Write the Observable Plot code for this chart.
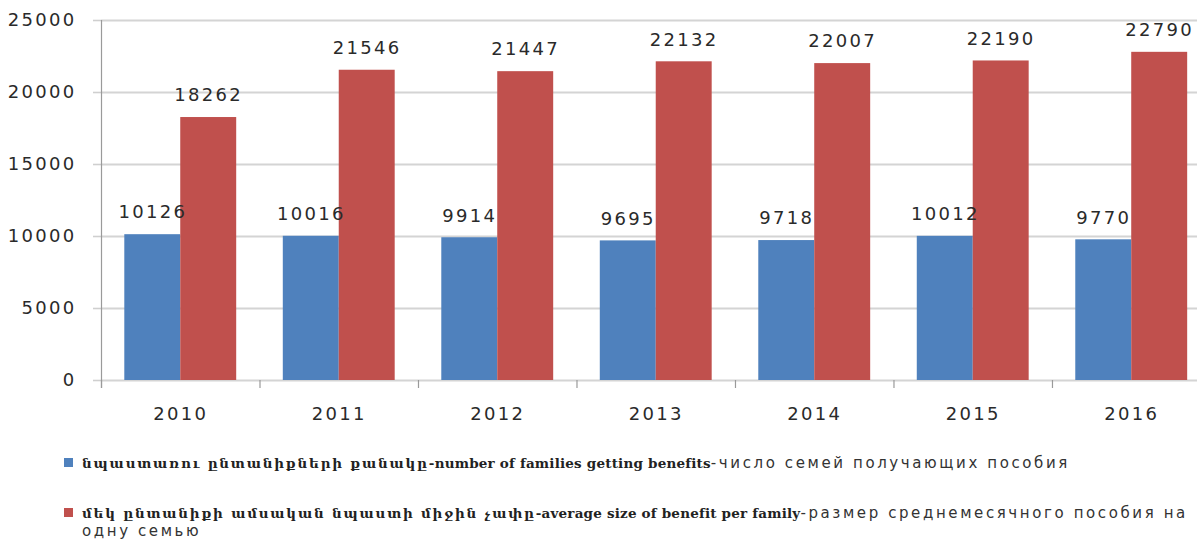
<!DOCTYPE html>
<html>
<head>
<meta charset="utf-8">
<script src="https://cdn.jsdelivr.net/npm/d3@7"></script>
<script src="https://cdn.jsdelivr.net/npm/@observablehq/plot@0.6"></script>
<style>
  html, body { margin: 0; padding: 0; background: #fff; }
  #wrap { position: relative; width: 1200px; height: 540px; overflow: hidden; }
  #chart svg text { letter-spacing: 2.3px; }
  #chart g[aria-label="y-axis"] line,
  #chart g[aria-label="y-axis"] path,
  #chart g[aria-label="y-axis tick"] path { stroke: #cfcfcf; stroke-width: 1.6; }
  .leg { position: absolute; left: 64px; width: 1135px; color: #222; }
  .sw { position: absolute; left: 0; width: 9px; height: 9px; }
  .txt { position: absolute; left: 18px; width: 1117px; line-height: 18px; }
  .hy { font-family: "DejaVu Serif", serif; font-weight: bold; font-size: 13.5px; letter-spacing: 1.8px; }
  .en { font-family: "DejaVu Serif", serif; font-weight: bold; font-size: 13.5px; letter-spacing: 0.2px; }
  .ru { font-family: "DejaVu Sans", sans-serif; font-size: 15px; letter-spacing: 2.6px; color: #333; }
</style>
</head>
<body>
<div id="wrap">
  <div id="chart"></div>
  <div class="leg" style="top:454px;">
    <div class="sw" style="top:4px;background:#4F81BD;"></div>
    <div class="txt" id="l1"></div>
  </div>
  <div class="leg" style="top:504px;">
    <div class="sw" style="top:4px;background:#C0504D;"></div>
    <div class="txt" id="l2"></div>
  </div>
</div>
<script>
// ---- data ----
const years = [2010, 2011, 2012, 2013, 2014, 2015, 2016];
const families = [10126, 10016, 9914, 9695, 9718, 10012, 9770];
const avgBenefit = [18262, 21546, 21447, 22132, 22007, 22190, 22790];
const yTicks = [0, 5000, 10000, 15000, 20000, 25000];
const seriesNames = ["families", "benefit"];
const seriesColors = ["#4F81BD", "#C0504D"];
const legendHy = ["նպաստառու ընտանիքների քանակը", "մեկ ընտանիքի ամսական նպաստի միջին չափը"];
const legendEn = ["-number of families getting benefits", "-average size of benefit per family"];
const legendRu = ["-число семей получающих пособия", "-размер среднемесячного пособия на одну семью"];

// ---- build table ----
const barW = 0.353;
const rows = [];
years.forEach((yr, i) => {
  rows.push({year: yr, series: seriesNames[0], value: families[i], x1: yr - barW, x2: yr});
  rows.push({year: yr, series: seriesNames[1], value: avgBenefit[i], x1: yr, x2: yr + barW});
});
const boundaries = years.map(y => y - 0.5);

const plot = Plot.plot({
  width: 1200,
  height: 425,
  marginLeft: 101,
  marginRight: 3,
  marginTop: 20,
  marginBottom: 45,
  style: {fontFamily: "DejaVu Sans, sans-serif", fontSize: "18px", color: "#2a2a2a", background: "#fff"},
  x: {domain: [2009.5, 2016.415], ticks: years, tickFormat: d => String(d), tickSize: 0, tickPadding: 27, label: null},
  y: {domain: [0, 25000], ticks: yTicks, tickSize: 8, tickPadding: 17, tickFormat: d => String(d), label: null},
  color: {domain: seriesNames, range: seriesColors},
  marks: [
    Plot.ruleY(yTicks, {y: d => d, stroke: "#d4d4d4", strokeWidth: 1.8}),
    Plot.rectY(rows, {x1: "x1", x2: "x2", y1: 0, y2: "value", fill: "series"}),
    Plot.ruleX([boundaries[0]], {x: d => d, stroke: "#9a9a9a", strokeWidth: 1.2, insetBottom: -8}),
    Plot.ruleX(boundaries, {x: d => d, y1: 0, y2: 0, insetTop: 8, stroke: "#9a9a9a", strokeWidth: 1.2}),
    Plot.text(rows, {x: d => (d.x1 + d.x2) / 2, y: "value", text: d => String(d.value), dy: -22, fill: "#2a2a2a", fontSize: 18})
  ]
});
document.getElementById("chart").appendChild(plot);

function fillLegend(id, i) {
  const el = document.getElementById(id);
  const ruWords = legendRu[i].split(" ");
  const ruHtml = ruWords.map((w, k) => `<span class="ru">${w}${k < ruWords.length - 1 ? " " : ""}</span>`).join("");
  el.innerHTML = `<span class="hy">${legendHy[i]}</span><span class="en">${legendEn[i]}</span>${ruHtml}`;
}
fillLegend("l1", 0);
fillLegend("l2", 1);
</script>
</body>
</html>
